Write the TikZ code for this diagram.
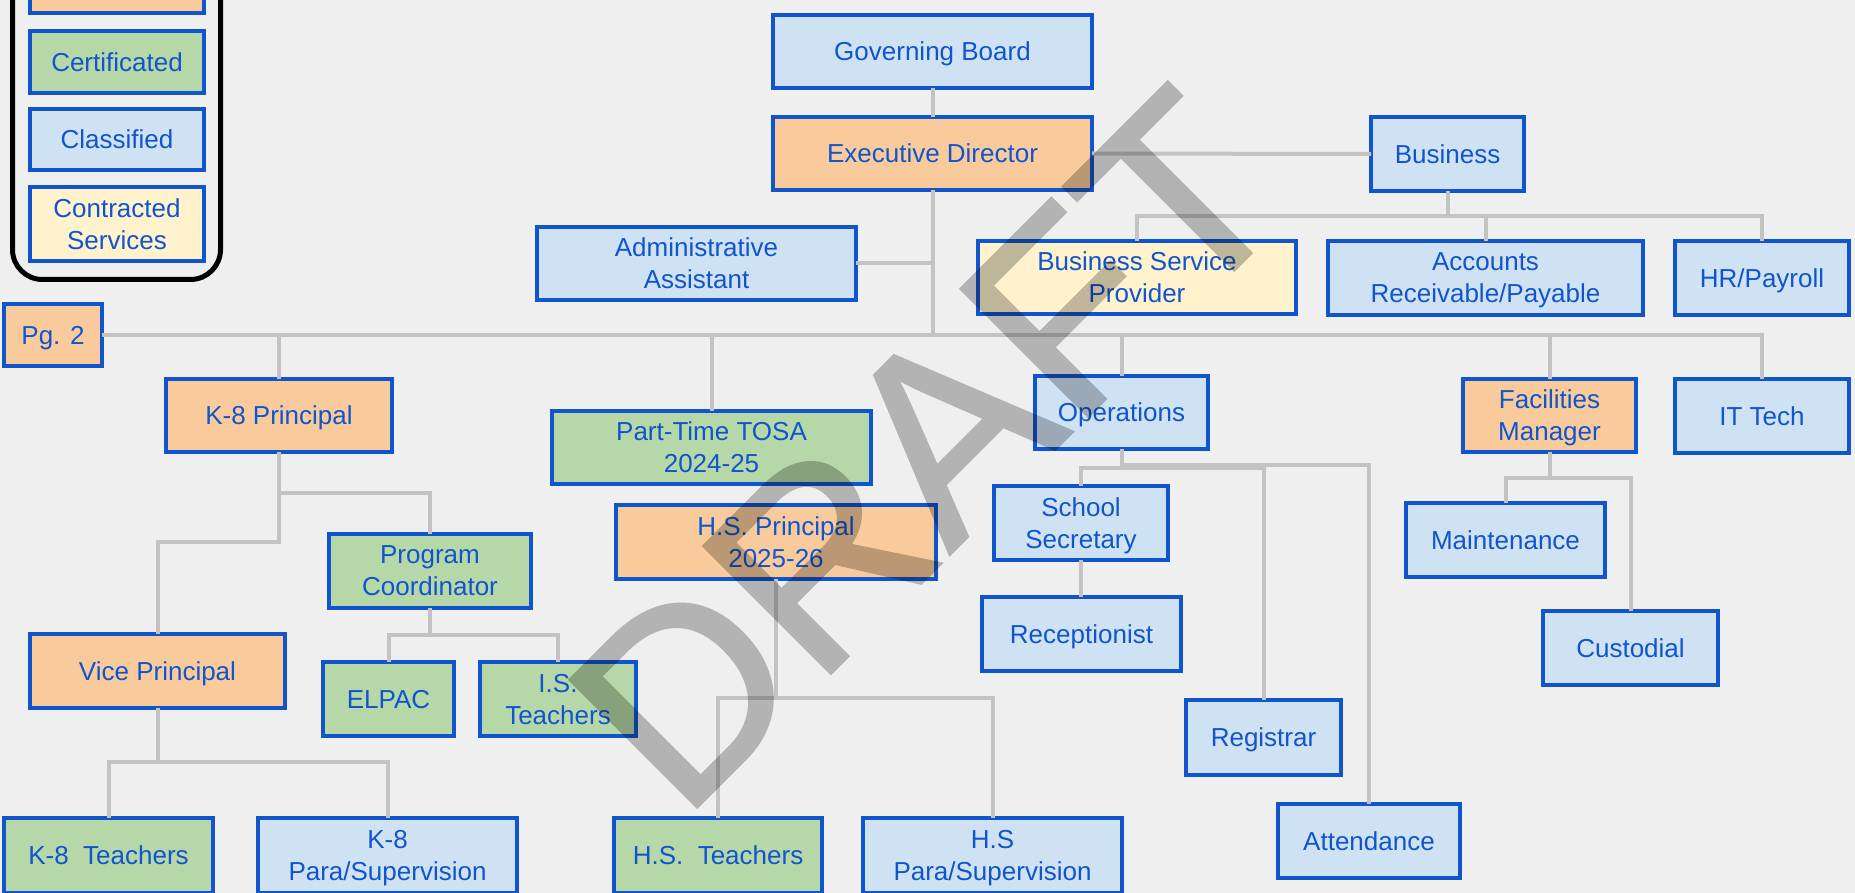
\documentclass[tikz,border=0pt]{standalone}
\usepackage{fontspec}
\setmainfont{Liberation Sans}
\newfontfamily\stampfont{Liberation Sans}[FakeBold=1]
\definecolor{pagebg}{HTML}{EFEFEF}
\definecolor{edgeblue}{HTML}{1155CC}
\definecolor{mgmt}{HTML}{F9CB9C}
\definecolor{cert}{HTML}{B6D7A8}
\definecolor{clsf}{HTML}{CFE2F3}
\definecolor{contr}{HTML}{FFF2CC}
\definecolor{linkgray}{HTML}{C3C3C3}
\begin{document}
\begin{tikzpicture}[x=1pt,y=-1pt,
  box/.style={draw=edgeblue, line width=4.5pt, text=edgeblue, inner sep=0pt,
    outer sep=0pt, align=center, text depth=0pt, font=\fontsize{26}{32}\selectfont},
  mgmtbox/.style={box, fill=mgmt},
  certbox/.style={box, fill=cert},
  clsfbox/.style={box, fill=clsf},
  contrbox/.style={box, fill=contr},
  sz/.style 2 args={minimum width=#1pt, minimum height=#2pt},
  conn/.style={draw=linkgray, line width=4pt}]
\useasboundingbox (0,0) rectangle (1855,893);
\fill[pagebg] (0,0) rectangle (1855,893);
\begin{scope}
\clip (0,0) rectangle (1855,893);

% legend
\draw[line width=5pt, rounded corners=30pt] (12.5,-60) rectangle (220.5,279.5);
\node[mgmtbox, sz={174}{61}] (lgmgmt) at (117,-17.5) {};
\node[certbox, sz={174}{62}] (lgcert) at (117,62) {Certificated};
\node[clsfbox, sz={174}{61}] (lgclsf) at (117,139.5) {Classified};
\node[contrbox, sz={174}{74}] (lgcontr) at (117,224) {Contracted\\Services};

% positions
\node[mgmtbox, sz={98}{62}] (pg) at (53,335) {Pg. 2};
\node[clsfbox, sz={319}{73}] (gov) at (932.5,51.5) {Governing Board};
\node[mgmtbox, sz={319}{73}] (exec) at (932.5,153.5) {Executive Director};
\node[clsfbox, sz={153}{74}] (bus) at (1447.5,154) {Business};
\node[clsfbox, sz={319}{73}] (admin) at (696.5,263.5) {Administrative\\Assistant};
\node[contrbox, sz={318}{73}] (bsp) at (1137,277.5) {Business Service\\Provider};
\node[clsfbox, sz={315}{74}] (acc) at (1485.5,278) {Accounts\\Receivable/Payable};
\node[clsfbox, sz={174}{74}] (hr) at (1762,278) {HR/Payroll};
\node[mgmtbox, sz={226}{73}] (k8p) at (279,415.5) {K-8 Principal};
\node[certbox, sz={319}{73}] (tosa) at (711.5,447.5) {Part-Time TOSA\\2024-25};
\node[clsfbox, sz={173}{73}] (ops) at (1121.5,412.5) {Operations};
\node[mgmtbox, sz={173}{73}] (fac) at (1549.5,415.5) {Facilities\\Manager};
\node[clsfbox, sz={174}{74}] (it) at (1762,416) {IT Tech};
\node[mgmtbox, sz={320}{74}] (hsp) at (776,542) {H.S. Principal\\2025-26};
\node[certbox, sz={202}{74}] (prog) at (430,571) {Program\\Coordinator};
\node[clsfbox, sz={174}{74}] (sec) at (1081,523) {School\\Secretary};
\node[clsfbox, sz={199}{74}] (maint) at (1505.5,540) {Maintenance};
\node[clsfbox, sz={199}{74}] (recep) at (1081.5,634) {Receptionist};
\node[clsfbox, sz={175}{74}] (cust) at (1630.5,648) {Custodial};
\node[mgmtbox, sz={255}{74}] (vp) at (157.5,671) {Vice Principal};
\node[certbox, sz={131}{74}] (elpac) at (388.5,699) {ELPAC};
\node[certbox, sz={156}{74}] (ist) at (558,699) {I.S.\\Teachers};
\node[clsfbox, sz={155}{75}] (reg) at (1263.5,737.5) {Registrar};
\node[clsfbox, sz={182}{74}] (att) at (1369,841) {Attendance};
\node[certbox, sz={209}{75}] (k8t) at (108.5,855.5) {K-8\ \ Teachers};
\node[clsfbox, sz={259}{75}] (k8para) at (387.5,855.5) {K-8\\Para/Supervision};
\node[certbox, sz={208}{75}] (hst) at (718,855.5) {H.S.\ \ Teachers};
\node[clsfbox, sz={259}{75}] (hspara) at (992.5,855.5) {H.S\\Para/Supervision};

% reporting lines
\begin{scope}[conn]
\draw (gov.south) -- (exec.north);
\draw (exec.east) -- (bus.west);
\draw (bus.south) -- ++(0,25) coordinate (bj) -| (bsp.north);
\draw (bj) -| (acc.north);
\draw (bj) -| (hr.north);
\draw (exec.south) -- (exec.south |- pg.east);
\draw (admin.east) -- (admin.east -| exec.south);
\draw (pg.east) -| (it.north);
\draw (k8p.north |- pg.east) -- (k8p.north);
\draw (tosa.north |- pg.east) -- (tosa.north);
\draw (ops.north |- pg.east) -- (ops.north);
\draw (fac.north |- pg.east) -- (fac.north);
\draw (k8p.south) -- ++(0,90) -| (vp.north);
\draw (k8p.south) -- ++(0,41) -| (prog.north);
\draw (prog.south) -- ++(0,27) -| (elpac.north);
\draw (prog.south) -- ++(0,27) -| (ist.north);
\draw (vp.south) -- ++(0,54) -| (k8t.north);
\draw (vp.south) -- ++(0,54) -| (k8para.north);
\draw (hsp.south) -- ++(0,119) -| (hst.north);
\draw (hsp.south) -- ++(0,119) -| (hspara.north);
\draw (ops.south) -- ++(0,19) -| (sec.north);
\draw (ops.south) -- ++(0,19) -| (reg.north);
\draw (ops.south) -- ++(0,16) -| (att.north);
\draw (sec.south) -- (sec.south |- recep.north);
\draw (fac.south) -- ++(0,26) -| (maint.north);
\draw (fac.south) -- ++(0,26) -| (cust.north);
\end{scope}

% watermark
\begin{scope}[transparency group, opacity=0.25]
\node[rotate=45, inner sep=0pt, text=black,
  font=\stampfont\fontsize{262}{262}\selectfont] (draft) at (927,450) {DRAFT};
\end{scope}
\end{scope}
\end{tikzpicture}
\end{document}
